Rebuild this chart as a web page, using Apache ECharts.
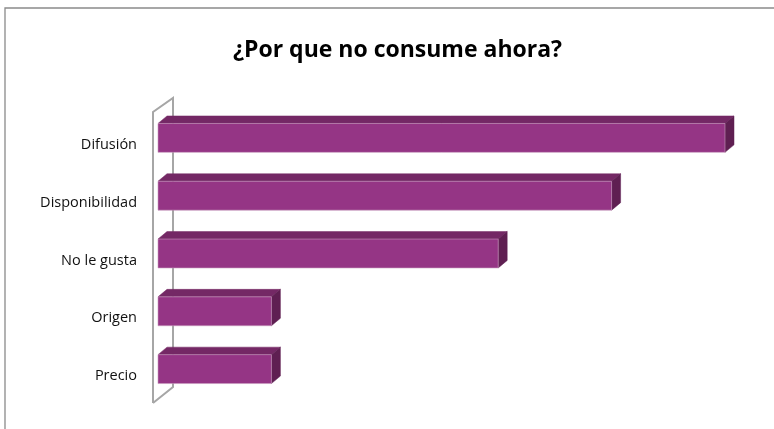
<!DOCTYPE html>
<html><head><meta charset="utf-8">
<script src="https://cdn.jsdelivr.net/npm/echarts@6/dist/echarts.min.js"></script>
<style>html,body{margin:0;padding:0;background:#fff}#c{width:774px;height:429px}</style>
</head><body><div id="c"></div>
<script>
const categories = ['Precio', 'Origen', 'No le gusta', 'Disponibilidad', 'Difusión'];
const values = [1, 1, 3, 4, 5];
const titleText = '¿Por que no consume ahora?';

const FRONT = '#953585', TOP = '#742865', SIDE = '#5f1f52', EDGE = '#c79bbd';
const DX = 9, DY = -7.5, SHIFT = -7;

const chart = echarts.init(document.getElementById('c'), null, {renderer: 'canvas'});
chart.setOption({
  animation: false,
  title: {text: titleText, left: 228, top: 34,
    textStyle: {fontFamily: 'Open Sans', fontWeight: 'bold', fontSize: 23, color: '#000'}},
  graphic: [{type: 'rect', shape: {x: 5, y: 8, width: 900, height: 600},
    style: {fill: 'none', stroke: '#8a8a8a', lineWidth: 1.3}, silent: true}],
  grid: {left: 158, right: 49, top: 116, bottom: 24},
  xAxis: {type: 'value', min: 0, max: 5, show: false},
  yAxis: {type: 'category', data: categories,
    axisLine: {show: false}, axisTick: {show: false},
    axisLabel: {fontFamily: 'Open Sans', fontSize: 14.5, color: '#111', margin: 21}},
  series: [{
    type: 'custom',
    data: values.map((v, i) => [v, i]),
    encode: {x: 0, y: 1},
    renderItem: function (params, api) {
      const cs = params.coordSys;
      const p0 = api.coord([0, api.value(1)]);
      const p1 = api.coord([api.value(0), api.value(1)]);
      const band = api.size([0, 1])[1];
      const h = band * 0.5;
      const x0 = p0[0], x1 = p1[0];
      const yt = p0[1] + SHIFT - h / 2, yb = yt + h;
      const children = [];
      if (params.dataIndex === 0) {
        // side wall of the 3D category axis
        const fx = cs.x - 5, bx = cs.x + 15;
        const ft = cs.y - 4, fb = cs.y + cs.height - 2;
        children.push({type: 'polyline', silent: true,
          shape: {points: [[fx, fb], [fx, ft], [bx, ft - 14], [bx, fb - 16], [fx, fb]]},
          style: {fill: 'none', stroke: '#a6a6a6', lineWidth: 2}});
      }
      children.push({type: 'polygon', shape: {points: [[x0, yt], [x0 + DX, yt + DY], [x1 + DX, yt + DY], [x1, yt]]},
        style: {fill: TOP, stroke: TOP, lineWidth: 0.5}});
      children.push({type: 'polygon', shape: {points: [[x1, yt], [x1 + DX, yt + DY], [x1 + DX, yb + DY], [x1, yb]]},
        style: {fill: SIDE, stroke: SIDE, lineWidth: 0.5}});
      children.push({type: 'rect', shape: {x: x0, y: yt, width: x1 - x0, height: h},
        style: {fill: FRONT, stroke: EDGE, lineWidth: 0.6}});
      return {type: 'group', children: children};
    }
  }]
});
</script></body></html>
